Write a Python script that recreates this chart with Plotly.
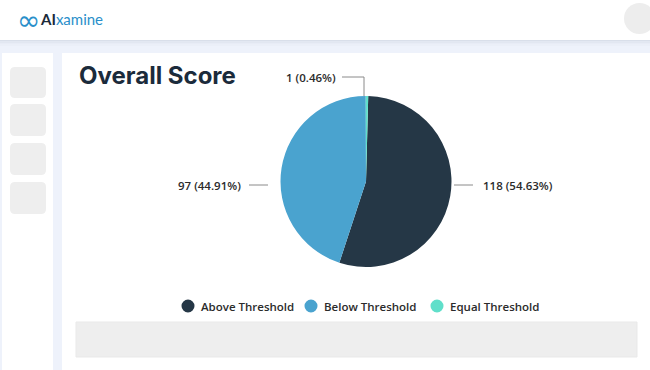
import plotly.graph_objects as go

# ---------------- data ----------------
CATEGORIES = ["Above Threshold", "Below Threshold", "Equal Threshold"]
VALUES = [118, 97, 1]
COLORS = ["#253746", "#4aa3cf", "#60dfca"]
TITLE = "Overall Score"

# ---------------- layout constants (pixels) ----------------
W, H = 650, 370
PIE_CX, PIE_CY, PIE_R = 366, 181.5, 85.5
# label text anchor (x, y, anchor side) per category
LABEL_POS = [(481, 185, "left"), (243, 185, "right"), (338, 77, "right")]
# leader lines (pixel paths) per category
LEADERS = [
    "M454,185 L473,185",
    "M249,185 L268,185",
    "M342,77 L364,77 L364,96",
]
LEGEND_X = [188, 311, 437]
LEGEND_Y = 306
TEXT_FONT = "Open Sans"


def px(x):
    return x / W


def py(y):
    return 1 - y / H


def path_px(d):
    out = []
    for tok in d.split():
        cmd = tok[0]
        xs, ys = tok[1:].split(",")
        out.append(f"{cmd}{px(float(xs)):.5f},{py(float(ys)):.5f}")
    return " ".join(out)


def rrect(x0, y0, x1, y1, r):
    # rounded rectangle path in paper coords, from pixel coords
    pts = [
        f"M{px(x0 + r)},{py(y0)}",
        f"L{px(x1 - r)},{py(y0)}",
        f"Q{px(x1)},{py(y0)} {px(x1)},{py(y0 + r)}",
        f"L{px(x1)},{py(y1 - r)}",
        f"Q{px(x1)},{py(y1)} {px(x1 - r)},{py(y1)}",
        f"L{px(x0 + r)},{py(y1)}",
        f"Q{px(x0)},{py(y1)} {px(x0)},{py(y1 - r)}",
        f"L{px(x0)},{py(y0 + r)}",
        f"Q{px(x0)},{py(y0)} {px(x0 + r)},{py(y0)}",
        "Z",
    ]
    return " ".join(pts)


def rect(x0, y0, x1, y1, fill, line=None, layer="below"):
    return dict(
        type="rect", xref="paper", yref="paper",
        x0=px(x0), x1=px(x1), y0=py(y1), y1=py(y0),
        fillcolor=fill, line=dict(width=1 if line else 0, color=line or fill),
        layer=layer,
    )


total = sum(VALUES)

fig = go.Figure()
fig.add_trace(
    go.Pie(
        labels=CATEGORIES,
        values=VALUES,
        marker=dict(colors=COLORS, line=dict(width=0)),
        sort=False,
        direction="clockwise",
        rotation=1.5,
        textinfo="none",
        hovertemplate="%{label}: %{value} (%{percent})<extra></extra>",
        showlegend=False,
        domain=dict(
            x=[px(PIE_CX - PIE_R), px(PIE_CX + PIE_R)],
            y=[py(PIE_CY + PIE_R), py(PIE_CY - PIE_R)],
        ),
    )
)

shapes = []
# header
shapes.append(rect(0, 0, W, 40, "#ffffff"))
for i, c in enumerate(["#d9dfea", "#e2e7f1", "#e8ecf6", "#ebeff8"]):
    shapes.append(rect(0, 40 + i * 1.5, W, 41.5 + i * 1.5, c))
# header avatar
shapes.append(dict(type="circle", xref="paper", yref="paper",
                   x0=px(624), x1=px(655), y0=py(34), y1=py(3),
                   fillcolor="#ededed", line=dict(width=0), layer="below"))
# sidebar
shapes.append(rect(2, 53, 53, H + 2, "#ffffff"))
for (y0, y1) in [(67, 98), (104, 136), (143, 175), (182, 214)]:
    shapes.append(dict(type="path", xref="paper", yref="paper",
                       path=rrect(10, y0, 46, y1, 5), fillcolor="#eeeeee",
                       line=dict(width=0), layer="below"))
# main panel
shapes.append(rect(62, 53, W + 2, H + 2, "#ffffff"))
# bottom grey bar
shapes.append(rect(76, 322, 637, 357, "#eeeeee", line="#e9e9e9"))

# leader lines
for d in LEADERS:
    shapes.append(dict(type="path", xref="paper", yref="paper",
                       path=path_px(d), line=dict(color="#8a8a8a", width=1),
                       layer="above"))

# legend markers
for xc, c in zip(LEGEND_X, COLORS):
    shapes.append(dict(type="circle", xref="paper", yref="paper",
                       x0=px(xc - 6.5), x1=px(xc + 6.5),
                       y0=py(LEGEND_Y + 6.5), y1=py(LEGEND_Y - 6.5),
                       fillcolor=c, line=dict(width=0), layer="above"))

annotations = []
# logo
annotations.append(dict(xref="paper", yref="paper", x=px(15), y=py(20),
                        xanchor="left", yanchor="middle", showarrow=False,
                        text="∞", font=dict(family="DejaVu Sans", size=28, color="#2a8fca")))
annotations.append(dict(xref="paper", yref="paper", x=px(38), y=py(19),
                        xanchor="left", yanchor="middle", showarrow=False,
                        text="<span style='color:#1b2a3a;font-weight:700'>AI</span>"
                             "<span style='color:#2a8fca'>xamine</span>",
                        font=dict(family="Lato", size=15)))
# title
annotations.append(dict(xref="paper", yref="paper", x=px(77), y=py(75),
                        xanchor="left", yanchor="middle", showarrow=False,
                        text=f"<b>{TITLE}</b>",
                        font=dict(family="Inter", size=24, color="#1b2b3b")))
# slice labels
for v, (lx, ly, side) in zip(VALUES, LABEL_POS):
    annotations.append(dict(xref="paper", yref="paper", x=px(lx), y=py(ly),
                            xanchor=side, yanchor="middle", showarrow=False,
                            text=f"{v} ({v / total * 100:.2f}%)",
                            font=dict(family=TEXT_FONT, size=11.5, weight=600,
                                      color="#2b2b2b")))
# legend labels
for name, xc in zip(CATEGORIES, LEGEND_X):
    annotations.append(dict(xref="paper", yref="paper", x=px(xc + 11), y=py(LEGEND_Y),
                            xanchor="left", yanchor="middle", showarrow=False,
                            text=name,
                            font=dict(family=TEXT_FONT, size=11.5, weight=600,
                                      color="#2b2b2b")))

fig.update_layout(
    width=W, height=H,
    margin=dict(l=0, r=0, t=0, b=0),
    paper_bgcolor="#eef2fb",
    plot_bgcolor="rgba(0,0,0,0)",
    shapes=shapes,
    annotations=annotations,
    showlegend=False,
)

fig.write_html(
    "out.html",
    config={"displayModeBar": False},
    post_script="document.body.style.margin='0';document.body.style.overflow='hidden';",
)
